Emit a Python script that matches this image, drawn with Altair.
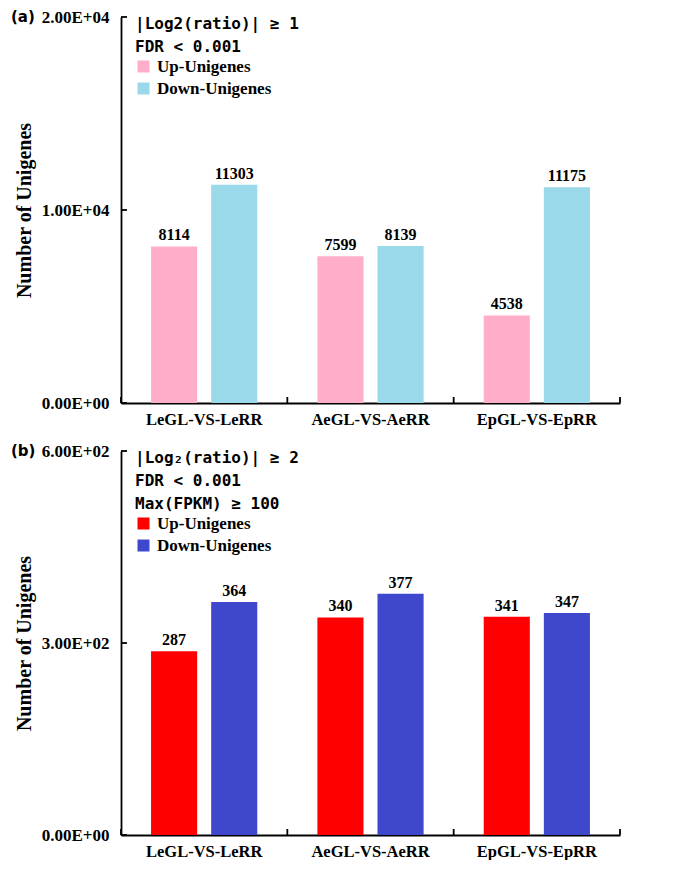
import altair as alt
import pandas as pd

cats = ["LeGL-VS-LeRR", "AeGL-VS-AeRR", "EpGL-VS-EpRR"]
types = ["Up-Unigenes", "Down-Unigenes"]

up_a = [8114, 7599, 4538]
down_a = [11303, 8139, 11175]
ticks_a = [0, 10000, 20000]
colors_a = ["#FFAEC9", "#99D9EA"]
title_a = ["|Log2(ratio)| ≥ 1", "FDR < 0.001"]

up_b = [287, 340, 341]
down_b = [364, 377, 347]
ticks_b = [0, 300, 600]
colors_b = ["#FF0000", "#3F48CC"]
title_b = ["|Log₂(ratio)| ≥ 2", "FDR < 0.001", "Max(FPKM) ≥ 100"]

SERIF = "Liberation Serif"
SANS = "DejaVu Sans Mono"
TAGF = "DejaVu Sans"
W = 499

LABEL_EXPR = (
    "datum.value == 0 ? '0.00E+00' : "
    "format(datum.value / pow(10, floor(log(datum.value)/LN10 + 1e-9)), '.2f') + 'E+' + "
    "(floor(log(datum.value)/LN10 + 1e-9) < 10 ? '0' : '') + floor(log(datum.value)/LN10 + 1e-9)"
)


def panel(up, down, ticks, colors, title_lines, tag, H):
    rows = []
    for c, u, d in zip(cats, up, down):
        rows.append({"Comparison": c, "Type": types[0], "Count": u})
        rows.append({"Comparison": c, "Type": types[1], "Count": d})
    df = pd.DataFrame(rows)

    x_axis = alt.Axis(title=None, labelFont=SERIF, labelFontSize=16.5, labelFontWeight="bold",
                      labelColor="black", labelAngle=0, ticks=False, domainColor="black",
                      domainWidth=1.8, labelPadding=8)
    x = alt.X("Comparison:N", sort=cats, scale=alt.Scale(paddingInner=0, paddingOuter=0), axis=x_axis)
    xo = alt.XOffset("Type:N", sort=types, scale=alt.Scale(paddingInner=0.233, paddingOuter=0.5))
    y = alt.Y("Count:Q", scale=alt.Scale(domain=[ticks[0], ticks[-1]], nice=False),
              axis=alt.Axis(values=ticks, labelExpr=LABEL_EXPR, title="Number of Unigenes",
                            titleFont=SERIF, titleFontSize=20, titleFontWeight="bold", titleColor="black",
                            titlePadding=7, labelFont=SERIF, labelFontSize=17, labelFontWeight="bold",
                            labelColor="black", ticks=False, grid=False, domainColor="black",
                            domainWidth=1.8, labelPadding=12))

    bars = alt.Chart(df).mark_bar().encode(
        x=x, xOffset=xo, y=y,
        color=alt.Color("Type:N", scale=alt.Scale(domain=types, range=colors),
                        legend=alt.Legend(title=title_lines, orient="none", legendX=14, legendY=-1,
                                          titleFont=SANS, titleFontSize=16, titleFontWeight="bold",
                                          titleColor="black", titleLineHeight=23, titlePadding=3,
                                          labelFont=SERIF, labelFontSize=17, labelFontWeight="bold",
                                          labelColor="black", symbolType="square", symbolSize=144,
                                          symbolStrokeWidth=0, symbolOpacity=1, rowPadding=4,
                                          labelOffset=5)),
    )
    labels = alt.Chart(df).mark_text(dy=-11, font=SERIF, fontSize=16, fontWeight="bold",
                                     color="black").encode(x=x, xOffset=xo, y=y, text="Count:Q")

    ytick = alt.Chart(pd.DataFrame({"Count": ticks})).mark_rule(color="black", strokeWidth=1.8).encode(
        y=y, x=alt.value(0), x2=alt.value(6))
    xtick0 = alt.Chart(pd.DataFrame({"Comparison": cats})).mark_rule(color="black", strokeWidth=1.8).encode(
        x=alt.X("Comparison:N", sort=cats, bandPosition=0, axis=x_axis), y=alt.value(H), y2=alt.value(H - 6))
    xtick1 = alt.Chart(pd.DataFrame({"Comparison": cats[-1:]})).mark_rule(color="black", strokeWidth=1.8).encode(
        x=alt.X("Comparison:N", sort=cats, bandPosition=1, axis=x_axis), y=alt.value(H), y2=alt.value(H - 6))
    tagtext = alt.Chart(pd.DataFrame({"t": [tag]})).mark_text(
        align="left", baseline="middle", font=TAGF, fontSize=15, fontWeight="bold", color="black"
    ).encode(x=alt.value(-110), y=alt.value(0), text="t:N")

    return alt.layer(bars, labels, ytick, xtick0, xtick1, tagtext).properties(width=W, height=H)


pa = panel(up_a, down_a, ticks_a, colors_a, title_a, "(a)", 386)
pb = panel(up_b, down_b, ticks_b, colors_b, title_b, "(b)", 384)

chart = alt.vconcat(pa, pb, spacing=14).resolve_scale(color="independent").resolve_legend(
    color="independent").properties(
    padding={"left": 3, "top": 0, "right": 0, "bottom": 0}).configure_view(stroke=None)

chart.save("out.html", embed_options={"renderer": "svg", "actions": False})
